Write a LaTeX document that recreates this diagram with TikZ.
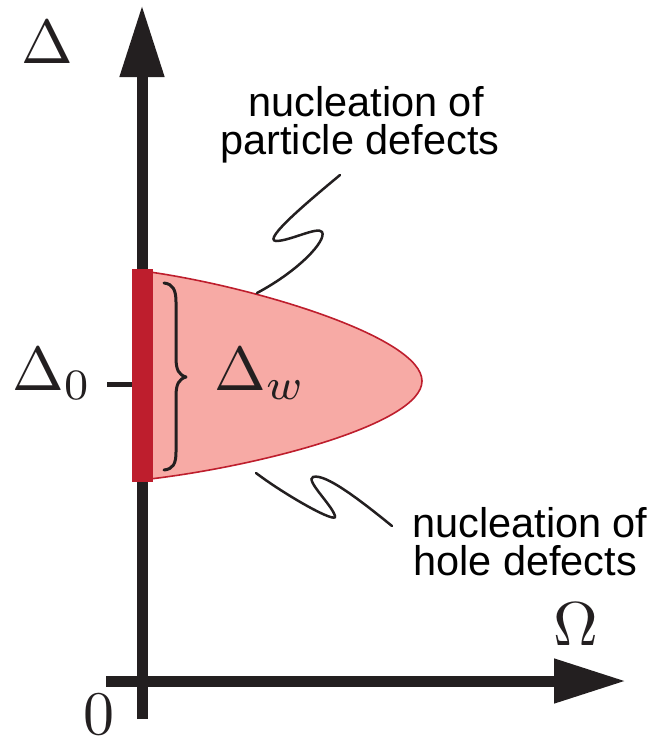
\documentclass[tikz,border=0pt]{standalone}
\usepackage{fontspec}
\newfontfamily\labelfont{Liberation Sans}
\usetikzlibrary{arrows.meta}
\definecolor{barred}{RGB}{190,30,45}
\definecolor{regionfill}{RGB}{247,170,165}
\definecolor{inkblack}{RGB}{35,31,32}
\newcommand{\bigmath}[1]{\scalebox{6.2}{$#1$}}
\begin{document}
\begin{tikzpicture}[x=1pt,y=-1pt,
  axisline/.style={line width=11pt, draw=inkblack, -{Triangle[length=72pt,width=42pt]}},
  mathlabel/.style={inner sep=0pt, text=inkblack},
  textlabel/.style={inner sep=0pt, text=black, font=\labelfont\fontsize{41.5}{39}\selectfont},
  squiggle/.style={line width=2.5pt, draw=inkblack, line cap=round},
  bracepath/.style={line width=3pt, draw=inkblack, line cap=round, line join=round}]
\useasboundingbox (0,0) rectangle (657,739);

% axes
\coordinate (vstart) at (142,719);
\coordinate (vend) at (142,5);
\coordinate (hstart) at (106,681);
\coordinate (hend) at (626,681);
\draw[axisline] (vstart) -- (vend);
\draw[axisline] (hstart) -- (hend);

% tick at Delta_0
\coordinate (tickL) at (107,384.5);
\coordinate (tickR) at (134,384.5);
\draw[line width=5pt, inkblack] (tickL) -- (tickR);

% region
\filldraw[fill=regionfill, draw=barred, line width=1.6pt]
  (150,272) .. controls (260,288) and (422,338) .. (422,381)
  .. controls (422,424) and (260,466) .. (150,479) -- cycle;
\fill[barred] (132,269) rectangle (153,482);

% brace
\draw[bracepath] (164,283) .. controls (173,284) and (176,290) .. (176,302) -- (176,358)
  .. controls (176,370) and (179,375) .. (186,377)
  .. controls (179,379) and (176,384) .. (176,396) -- (176,452)
  .. controls (176,464) and (173,469) .. (164,470);

% labels
\node[mathlabel, anchor=base west] (dlab) at (21,63) {\bigmath{\Delta}};
\node[mathlabel, anchor=base west] (d0lab) at (12,390) {\bigmath{\Delta_0}};
\node[mathlabel, anchor=base west] (dwlab) at (214,390) {\bigmath{\Delta_w}};
\node[mathlabel, anchor=base west] (omlab) at (553,645) {\bigmath{\Omega}};
\node[mathlabel, anchor=base, text depth=0pt] (zlab) at (99,734) {\bigmath{0}};

\node[textlabel, anchor=base] (ptop1) at (366,116) {nucleation of};
\node[textlabel, anchor=base] (ptop2) at (360,154) {particle defects};
\node[textlabel, anchor=base west] (hb1) at (412,537) {nucleation of};
\node[textlabel, anchor=base west] (hb2) at (413,575) {hole defects};

% squiggles
\coordinate (sqA) at (340,175);
\coordinate (sqB) at (257,293);
\draw[squiggle] (sqA) .. controls (310,200) and (262,240) .. (276,241)
  .. controls (290,241) and (318,226) .. (322,232)
  .. controls (327,240) and (300,270) .. (sqB);
\coordinate (sqC) at (256,473);
\coordinate (sqD) at (392,526);
\draw[squiggle] (sqC) .. controls (285,495) and (338,525) .. (335,516)
  .. controls (332,505) and (305,480) .. (313,477)
  .. controls (325,473) and (360,500) .. (sqD);
\end{tikzpicture}
\end{document}
